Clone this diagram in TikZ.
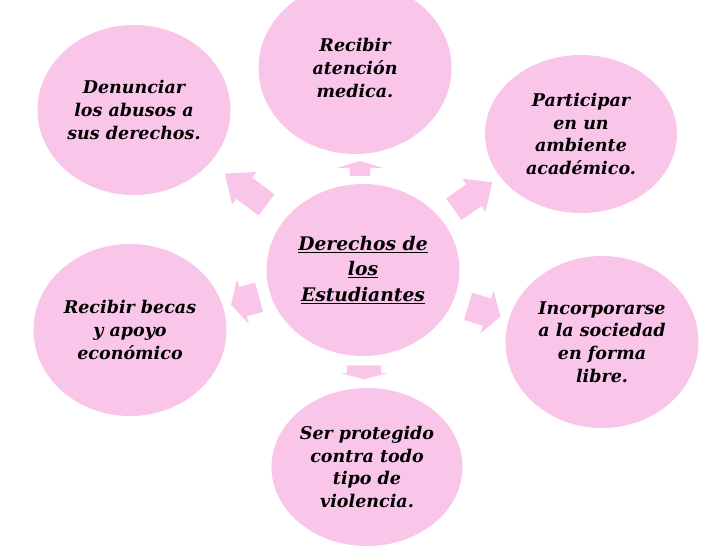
\documentclass[tikz,border=0pt]{standalone}
\usepackage{fontspec}
\setmainfont{DejaVu Serif}
\usetikzlibrary{shapes.geometric,shapes.arrows}
\definecolor{rosa}{RGB}{249,197,233}
\begin{document}
\begin{tikzpicture}[x=1pt,y=-1pt,inner sep=0pt,outer sep=0pt,
burbuja/.style={ellipse,fill=rosa,minimum width=193,minimum height=172,align=center,font=\fontsize{17.5}{22.8}\selectfont\bfseries\itshape},
flecha/.style={single arrow,fill=rosa,draw=none,inner xsep=0pt,single arrow head indent=0pt}]

\useasboundingbox (0,0) rectangle (728,546);
\fill[white] (0,0) rectangle (728,546);

\draw (363,270) node[burbuja,font=\fontsize{18.7}{25.5}\selectfont\bfseries\itshape] (centro) {\underline{Derechos de}\\\underline{los}\\\underline{Estudiantes}};
\draw (355,68) node[burbuja] (arriba) {Recibir\\atención\\medica.};
\draw (134,110) node[burbuja,minimum height=170] (denunciar) {Denunciar\\los abusos a\\sus derechos.};
\draw (581,134) node[burbuja,minimum width=192,minimum height=158] (participar) {Participar\\en un\\ambiente\\académico.};
\draw (130,330) node[burbuja] (becas) {Recibir becas\\y apoyo\\económico};
\draw (602,342) node[burbuja] (incorporarse) {Incorporarse\\a la sociedad\\en forma\\libre.};
\draw (367,467) node[burbuja,minimum width=191,minimum height=158] (protegido) {Ser protegido\\contra todo\\tipo de\\violencia.};

% flechas: inner ysep = medio vastago, head extend = (cabeza - vastago)/2
\draw (360,170) node[flecha,minimum height=15,inner ysep=10,single arrow head extend=13,single arrow tip angle=146,rotate=90] (f1) {};
\draw (252,194) node[flecha,minimum height=52,inner ysep=13,single arrow head extend=7,single arrow tip angle=80,rotate=143] (f2) {};
\draw (467,200) node[flecha,minimum height=47,inner ysep=13,single arrow head extend=7,single arrow tip angle=84,rotate=35] (f3) {};
\draw (249,300) node[flecha,minimum height=29,inner ysep=15,single arrow head extend=8,single arrow tip angle=124,rotate=195] (f4) {};
\draw (480,310) node[flecha,minimum height=34,inner ysep=14,single arrow head extend=8,single arrow tip angle=115,rotate=-17] (f5) {};
\draw (364,370) node[flecha,minimum height=14,inner ysep=17,single arrow head extend=6,single arrow tip angle=150,rotate=-90] (f6) {};

\end{tikzpicture}
\end{document}
